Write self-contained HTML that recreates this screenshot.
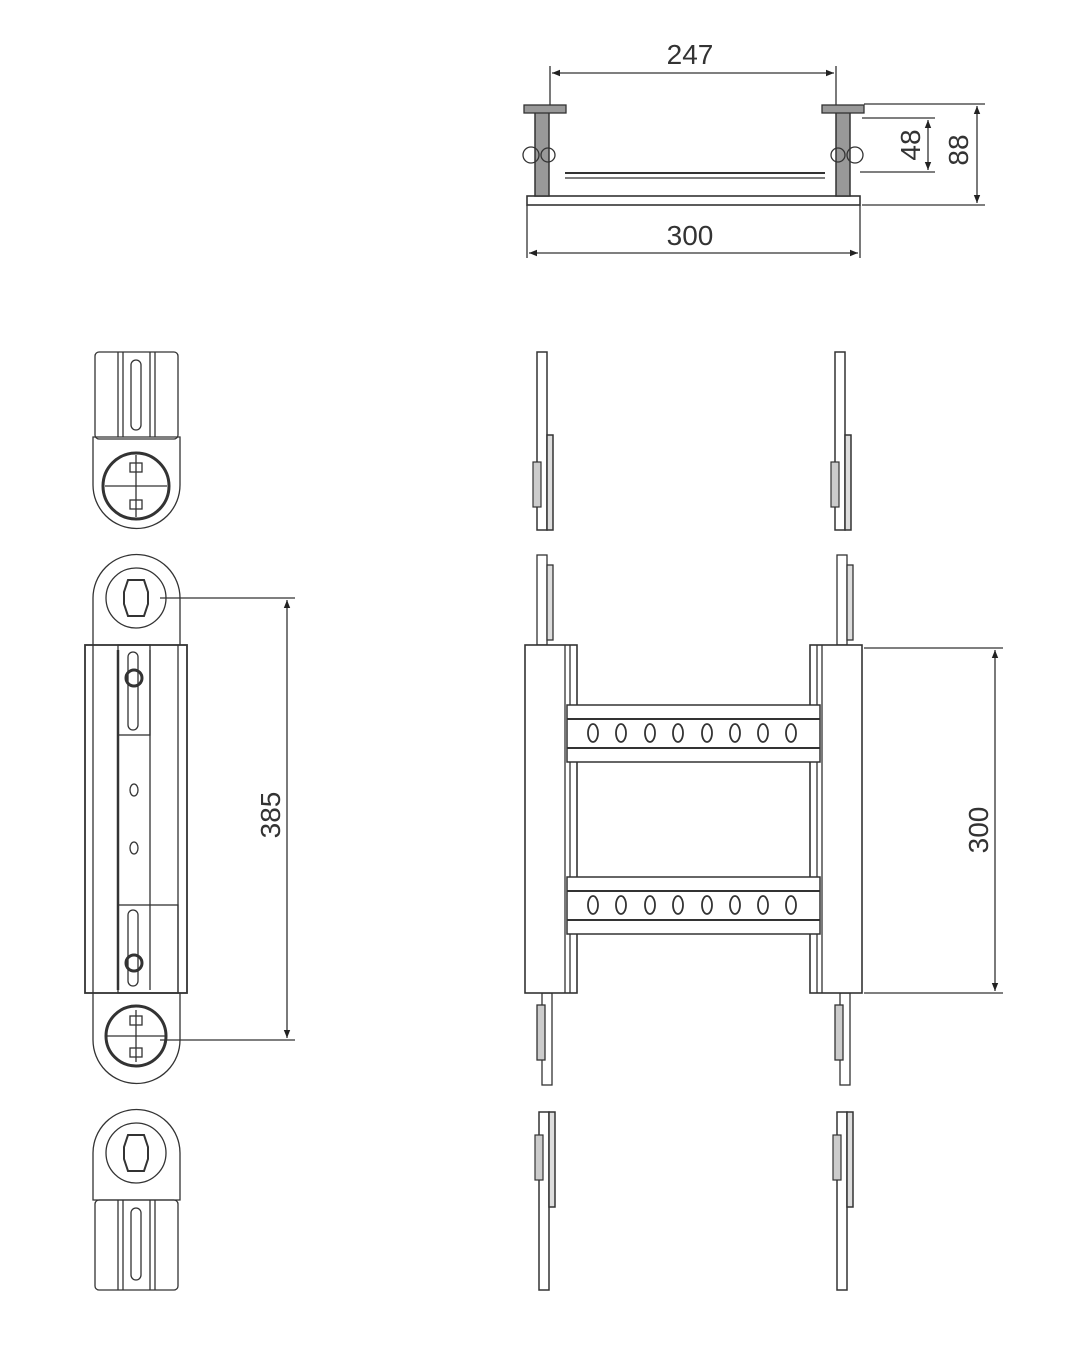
<!DOCTYPE html>
<html><head><meta charset="utf-8"><style>body{margin:0;background:#fff}svg{display:block}text{font-family:"Liberation Sans",sans-serif;font-size:28px;fill:#333}</style></head><body>
<svg width="1080" height="1350" viewBox="0 0 1080 1350" xmlns="http://www.w3.org/2000/svg">
<defs>
<marker id="a" viewBox="0 0 10 10" refX="10" refY="5" markerWidth="10" markerHeight="8" orient="auto-start-reverse" markerUnits="userSpaceOnUse"><path d="M0,1 L10,5 L0,9z" fill="#222"/></marker>
<g id="strip"><rect x="0" y="0" width="10" height="178" fill="#fff" stroke="#333" stroke-width="1.5"/><rect x="10" y="83" width="6" height="95" fill="#ddd" stroke="#333" stroke-width="1.5"/><rect x="-4" y="110" width="8" height="45" fill="#ccc" stroke="#333" stroke-width="1.2"/></g>
<g id="rung"><rect x="567" y="0" width="253" height="57" fill="#fff" stroke="#333" stroke-width="1.5"/><line x1="567" y1="14" x2="820" y2="14" stroke="#333" stroke-width="2"/><line x1="567" y1="43" x2="820" y2="43" stroke="#333" stroke-width="2"/>
<g fill="none" stroke="#333" stroke-width="1.8"><ellipse cx="593" cy="28" rx="5" ry="9"/><ellipse cx="621" cy="28" rx="5" ry="9"/><ellipse cx="650" cy="28" rx="5" ry="9"/><ellipse cx="678" cy="28" rx="5" ry="9"/><ellipse cx="707" cy="28" rx="5" ry="9"/><ellipse cx="735" cy="28" rx="5" ry="9"/><ellipse cx="763" cy="28" rx="5" ry="9"/><ellipse cx="791" cy="28" rx="5" ry="9"/></g></g>
</defs>
<g stroke="#333" stroke-width="1.3" fill="none">
<line x1="550" y1="66" x2="550" y2="112"/><line x1="836" y1="66" x2="836" y2="112"/>
<line x1="552" y1="73" x2="834" y2="73" marker-start="url(#a)" marker-end="url(#a)"/>
<rect x="527" y="196" width="333" height="9" stroke-width="1.6"/>
<line x1="565" y1="173" x2="825" y2="173" stroke-width="2"/><line x1="565" y1="178" x2="825" y2="178"/>
<rect x="535" y="112" width="14" height="84" fill="#999" stroke-width="1.5"/><rect x="524" y="105" width="42" height="8" fill="#999"/><circle cx="531" cy="155" r="8"/><circle cx="548" cy="155" r="7"/>
<rect x="836" y="112" width="14" height="84" fill="#999" stroke-width="1.5"/><rect x="822" y="105" width="42" height="8" fill="#999"/><circle cx="855" cy="155" r="8"/><circle cx="838" cy="155" r="7"/>
<line x1="527" y1="205" x2="527" y2="258"/><line x1="860" y1="205" x2="860" y2="258"/>
<line x1="529" y1="253" x2="858" y2="253" marker-start="url(#a)" marker-end="url(#a)"/>
<line x1="864" y1="104" x2="985" y2="104"/><line x1="862" y1="205" x2="985" y2="205"/>
<line x1="862" y1="118" x2="935" y2="118"/><line x1="860" y1="172" x2="935" y2="172"/>
<line x1="928" y1="120" x2="928" y2="170" marker-start="url(#a)" marker-end="url(#a)"/>
<line x1="977" y1="106" x2="977" y2="203" marker-start="url(#a)" marker-end="url(#a)"/>
<rect x="95" y="352" width="83" height="87" rx="4"/><line x1="118" y1="352" x2="118" y2="437"/><line x1="123" y1="352" x2="123" y2="437"/><line x1="150" y1="352" x2="150" y2="437"/><line x1="155" y1="352" x2="155" y2="437"/><rect x="131" y="360" width="10" height="70" rx="5"/>
<path d="M93,437 H180 V485 A43.5,43.5 0 0 1 93,485 Z"/><circle cx="136" cy="486" r="33" stroke-width="3"/><line x1="105" y1="486" x2="167" y2="486"/><line x1="136" y1="455" x2="136" y2="517"/><rect x="130" y="463" width="12" height="9"/><rect x="130" y="500" width="12" height="9"/>
<path d="M93,645 V598 A43.5,43.5 0 0 1 180,598 V645"/><circle cx="136" cy="598" r="30"/><path d="M128,580 h16 l4,12 v12 l-4,12 h-16 l-4,-12 v-12z" stroke-width="2"/>
<rect x="85" y="645" width="102" height="348" stroke-width="1.8"/><line x1="93" y1="645" x2="93" y2="993"/><line x1="178" y1="645" x2="178" y2="993"/><line x1="118" y1="650" x2="118" y2="990" stroke-width="2.5"/><line x1="150" y1="650" x2="150" y2="990"/>
<rect x="118" y="645" width="32" height="90"/><rect x="118" y="905" width="60" height="88"/><rect x="128" y="652" width="10" height="78" rx="5"/><rect x="128" y="910" width="10" height="76" rx="5"/>
<circle cx="134" cy="678" r="8" stroke-width="3"/><circle cx="134" cy="963" r="8" stroke-width="3"/>
<ellipse cx="134" cy="790" rx="4" ry="6"/><ellipse cx="134" cy="848" rx="4" ry="6"/>
<path d="M93,993 V1040 A43.5,43.5 0 0 0 180,1040 V993"/><circle cx="136" cy="1036" r="30" stroke-width="3"/><line x1="106" y1="1036" x2="166" y2="1036"/><line x1="136" y1="1010" x2="136" y2="1062"/><rect x="130" y="1016" width="12" height="9"/><rect x="130" y="1048" width="12" height="9"/>
<line x1="160" y1="598" x2="295" y2="598"/><line x1="160" y1="1040" x2="295" y2="1040"/>
<line x1="287" y1="600" x2="287" y2="1038" marker-start="url(#a)" marker-end="url(#a)"/>
<path d="M93,1200 V1153 A43.5,43.5 0 0 1 180,1153 V1200 Z"/><circle cx="136" cy="1153" r="30"/><path d="M128,1135 h16 l4,12 v12 l-4,12 h-16 l-4,-12 v-12z" stroke-width="2"/>
<rect x="95" y="1200" width="83" height="90" rx="4"/><line x1="118" y1="1200" x2="118" y2="1290"/><line x1="123" y1="1200" x2="123" y2="1290"/><line x1="150" y1="1200" x2="150" y2="1290"/><line x1="155" y1="1200" x2="155" y2="1290"/><rect x="131" y="1208" width="10" height="72" rx="5"/>
<use href="#strip" x="537" y="352"/><use href="#strip" x="835" y="352"/>
<use href="#strip" x="539" y="1108" transform="translate(0,2398) scale(1,-1)" />
<use href="#strip" x="837" y="1108" transform="translate(0,2398) scale(1,-1)" />
<rect x="537" y="555" width="10" height="90" fill="#fff"/><rect x="547" y="565" width="6" height="75" fill="#ddd"/>
<rect x="837" y="555" width="10" height="90" fill="#fff"/><rect x="847" y="565" width="6" height="75" fill="#ddd"/>
<rect x="542" y="993" width="10" height="92" fill="#fff"/><rect x="537" y="1005" width="8" height="55" fill="#ccc"/>
<rect x="840" y="993" width="10" height="92" fill="#fff"/><rect x="835" y="1005" width="8" height="55" fill="#ccc"/>
<rect x="525" y="645" width="52" height="348" fill="#fff" stroke-width="1.6"/><line x1="565" y1="645" x2="565" y2="993"/><line x1="570" y1="645" x2="570" y2="993"/>
<rect x="810" y="645" width="52" height="348" fill="#fff" stroke-width="1.6"/><line x1="817" y1="645" x2="817" y2="993"/><line x1="822" y1="645" x2="822" y2="993"/>
<use href="#rung" y="705"/><use href="#rung" y="877"/>
<line x1="864" y1="648" x2="1003" y2="648"/><line x1="864" y1="993" x2="1003" y2="993"/>
<line x1="995" y1="650" x2="995" y2="991" marker-start="url(#a)" marker-end="url(#a)"/>
</g>
<text x="690" y="64" text-anchor="middle">247</text>
<text x="690" y="245" text-anchor="middle">300</text>
<text transform="translate(920,145) rotate(-90)" text-anchor="middle">48</text>
<text transform="translate(968,150) rotate(-90)" text-anchor="middle">88</text>
<text transform="translate(280,815) rotate(-90)" text-anchor="middle">385</text>
<text transform="translate(988,830) rotate(-90)" text-anchor="middle">300</text>
</svg>
</body></html>
